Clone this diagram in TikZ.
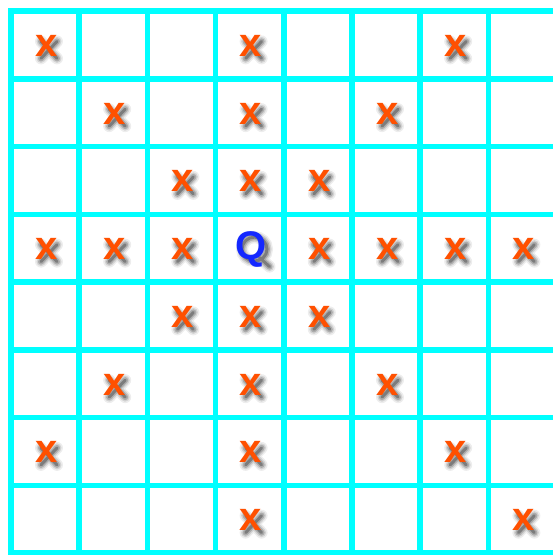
\documentclass[tikz,border=0pt]{standalone}
\usepackage{fontspec}
\setmainfont{Liberation Sans}
\definecolor{gridcyan}{RGB}{0,255,255}
\definecolor{hitorange}{RGB}{255,80,0}
\definecolor{queenblue}{RGB}{20,40,255}
\newcommand\boardfont{\fontsize{40}{40}\selectfont\bfseries}

\begin{document}
\begin{tikzpicture}[x=1pt, y=-1pt,
  gridline/.style={draw=gridcyan, line width=5.5pt},
  hit/.style={text=hitorange, font=\boardfont, inner sep=0pt, anchor=base west},
  queen/.style={text=queenblue, font=\boardfont, inner sep=0pt, anchor=base west},
  softstroke/.style={black, line cap=round},
  % soft drop shadows, drawn at the glyph's base line
  xblur/.pic={
    \foreach \w/\o in {12/0.07,9/0.11,6/0.18,3/0.28}
      \draw[softstroke, opacity=\o, line width=\w pt]
        (6,2) -- (22,-15) (6,-15) -- (22,2);
  },
  qblur/.pic={
    \foreach \w/\o in {12/0.07,9/0.11,6/0.18,3/0.28}
      \draw[softstroke, opacity=\o, line width=\w pt]
        (19,-10.5) ellipse[x radius=12.5, y radius=12]
        (24,-2) -- (34,7);
  }
]
\useasboundingbox (0,0) rectangle (553,555);
\fill[white] (0,0) rectangle (553,555);

% board
\foreach \i in {0,...,8}{
  \draw[gridline] ({11+68.2*\i},8.25) -- ({11+68.2*\i},560);
  \draw[gridline] (8.25,{11+67.75*\i}) -- (560,{11+67.75*\i});
}

% squares attacked by the queen
\foreach \c/\r in {0/0,3/0,6/0, 1/1,3/1,5/1, 2/2,3/2,4/2,
                   0/3,1/3,2/3,4/3,5/3,6/3,7/3,
                   2/4,3/4,4/4, 1/5,3/5,5/5, 0/6,3/6,6/6, 3/7,7/7}{
  \pic at ({35+68.2*\c},{56.4+67.75*\r}) {xblur};
  \node[hit] (hit-\c-\r) at ({35+68.2*\c},{56.4+67.75*\r}) {x};
}

% the queen
\pic at (235.5,259.6) {qblur};
\node[queen] (queen) at (235.5,259.6) {Q};
\end{tikzpicture}
\end{document}
